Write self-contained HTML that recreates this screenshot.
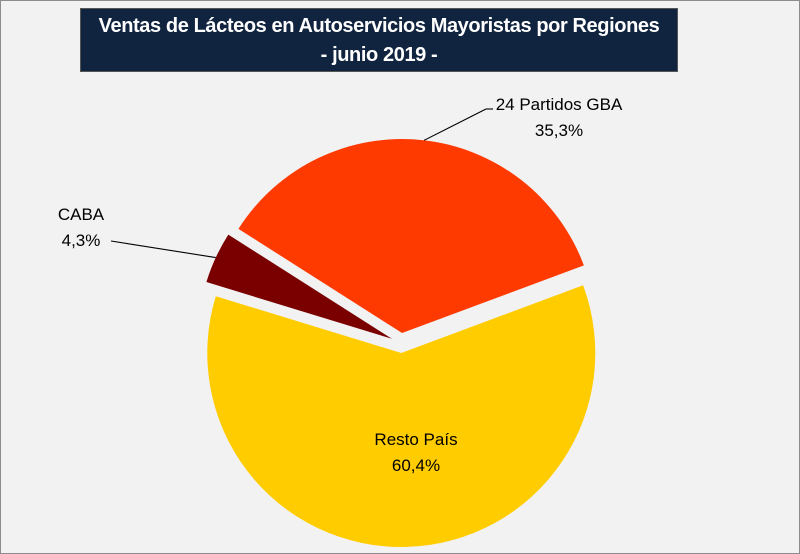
<!DOCTYPE html>
<html><head><meta charset="utf-8"><style>
body{margin:0;background:#fff}
#c{position:relative;width:800px;height:554px;background:#f2f2f2;box-sizing:border-box;border:1px solid #8c8c8c;overflow:hidden;font-family:"Liberation Sans",sans-serif}
#title{position:absolute;left:79px;top:7px;width:598px;height:64px;background:#10243f;border:1px solid #555;box-sizing:border-box;color:#fff;text-align:center;font-size:20px;font-weight:bold;line-height:29px;padding-top:3px;letter-spacing:-0.4px}
svg{position:absolute;left:0;top:0}
</style></head><body>
<div id="c">
<div id="title">Ventas de Lácteos en Autoservicios Mayoristas por Regiones<br>- junio 2019 -</div>
<svg id="s" width="800" height="554"></svg>
</div>
<script>
const categories=["24 Partidos GBA","Resto País","CABA"];
const values=[35.3,60.4,4.3];
const labels=["35,3%","60,4%","4,3%"];
const colors=["#ff3a00","#ffcc00","#7a0000"];
const cx=400,cy=342,r=194,explode=10,start=302.5;
const svg=document.getElementById('s');
const NS="http://www.w3.org/2000/svg";
const total=values.reduce((a,b)=>a+b,0);
function pt(a,rad,ox,oy){const t=a*Math.PI/180;return [ox+rad*Math.sin(t),oy-rad*Math.cos(t)];}
let a=start;
const mids=[];
values.forEach((v,i)=>{
  const sw=v/total*360, mid=a+sw/2;
  const [ox,oy]=pt(mid,explode,cx,cy);
  const p1=pt(a,r,ox,oy),p2=pt(a+sw,r,ox,oy);
  const path=document.createElementNS(NS,'path');
  path.setAttribute('d',`M${ox},${oy}L${p1[0]},${p1[1]}A${r},${r} 0 ${sw>180?1:0} 1 ${p2[0]},${p2[1]}Z`);
  path.setAttribute('fill',colors[i]);
  
  
  svg.appendChild(path);
  mids.push([mid,ox,oy]);
  a+=sw;
});
function line(x1,y1,x2,y2,name){const l=document.createElementNS(NS,'polyline');l.setAttribute('points',`${x1},${y1} ${x2},${y2}`);l.setAttribute('stroke','#000');l.setAttribute('fill','none');l.setAttribute('stroke-width','1.1');


svg.appendChild(l);}
function text(x,y,s,anchor,name){const t=document.createElementNS(NS,'text');t.setAttribute('x',x);t.setAttribute('y',y);t.setAttribute('text-anchor',anchor);t.setAttribute('font-size','17');t.setAttribute('font-family','Liberation Sans, sans-serif');t.textContent=s;


svg.appendChild(t);}
let e=pt(mids[0][0]+0.5,r,mids[0][1],mids[0][2]);
line(e[0],e[1],485,108,'leader-line-gba');line(485,108,492,108,'leader-line-gba-tail');
text(558,109,categories[0],'middle','label-gba-name');text(558,135,labels[0],'middle','label-gba-value');
text(415,444,categories[1],'middle','label-resto-name');text(415,470,labels[1],'middle','label-resto-value');
e=pt(mids[2][0],r,mids[2][1],mids[2][2]);
line(110,240,e[0],e[1],'leader-line-caba');
text(80,219,categories[2],'middle','label-caba-name');text(80,245,labels[2],'middle','label-caba-value');
</script>
</body></html>
